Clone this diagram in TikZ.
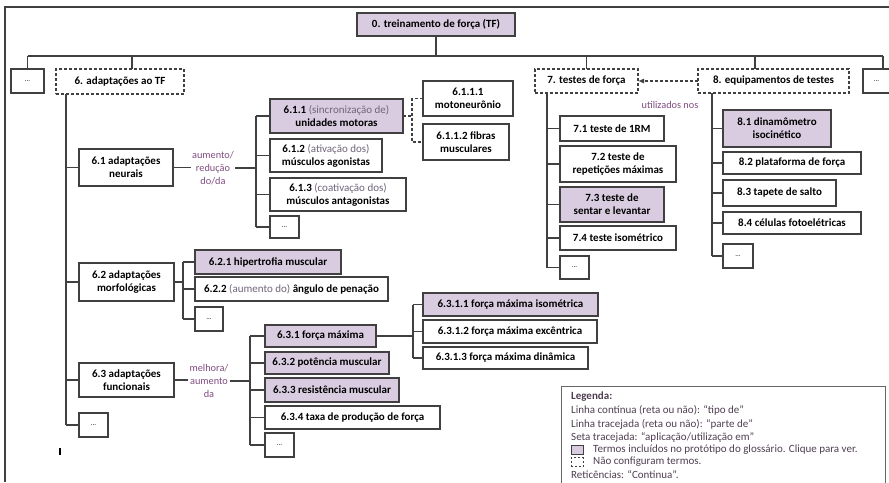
\documentclass[tikz,border=0pt]{standalone}
\usepackage{fontspec}
\setmainfont{Carlito}
\usetikzlibrary{positioning,arrows.meta}

\definecolor{lilas}{RGB}{217,204,224}
\definecolor{borda}{RGB}{64,64,64}
\definecolor{verbo}{RGB}{128,76,128}
\definecolor{cinza}{RGB}{112,100,122}
\definecolor{legtxt}{RGB}{78,62,80}

\newcommand{\obs}[1]{{\mdseries\color{cinza}#1}}

\tikzset{
  caixa/.style={draw=borda, line width=1.2pt, fill=white, anchor=north west, align=center,
    font=\fontsize{11}{13}\selectfont\bfseries, inner sep=1pt, outer sep=0pt},
  termo/.style={caixa, fill=lilas},
  tracejada/.style={caixa, dash pattern=on 3pt off 2pt},
  reti/.style={caixa, font=\fontsize{7}{8}\selectfont},
  tam/.style 2 args={minimum width=#1pt, minimum height=#2pt},
  liga/.style={draw=borda, line width=1.1pt},
  tracejado/.style={dash pattern=on 3pt off 2pt},
  verbotxt/.style={font=\fontsize{10.3}{13}\selectfont, text=verbo, align=center, inner sep=1pt},
  legenda/.style={anchor=west, inner sep=0pt, text=legtxt, font=\fontsize{11}{12}\selectfont}
}

\begin{document}
\begin{tikzpicture}[x=1pt, y=-1pt]
  \useasboundingbox (0,0) rectangle (889,482);

  % Frame
  \draw[borda, line width=1.2pt] (5,482) -- (5,7) -- (889,7);

  % Top level
  \node[termo, tam={158}{23}] (raiz) at (357,13) {0. treinamento de força (TF)};
  \node[reti, tam={33}{24}] (ret1) at (11,69) {...};
  \node[tracejada, tam={128}{25}] (a6) at (56,69) {6. adaptações ao TF};
  \node[tracejada, tam={103}{24}] (a7) at (535,69) {7. testes de força};
  \node[tracejada, tam={151}{24}] (a8) at (698,69) {8. equipamentos de testes};
  \node[reti, tam={27}{24}] (ret2) at (863,69) {...};

  \coordinate (barra) at (436,56);
  \coordinate (b1) at (27.5,56);
  \coordinate (b6) at (132,56);
  \coordinate (b8) at (755,56);
  \coordinate (b9) at (883,56);
  \draw[liga] (b1) -- (b9);
  \draw[liga] (raiz.south) -- (barra);
  \draw[liga] (b1) -- (ret1.north);
  \draw[liga] (b6) -- (b6 |- a6.north);
  \draw[liga] (a7.north |- barra) -- (a7.north);
  \draw[liga] (b8) -- (b8 |- a8.north);
  \draw[liga] (b9) -- (b9 |- ret2.north);

  % dashed arrow
  \draw[liga, tracejado, -{Latex[length=6pt, width=5pt]}] (a8.west) -- (a7.east);
  \node[verbotxt] (usa) at (670,105) {utilizados nos};

  % 6. adaptacoes
  \coordinate (t6) at (66,0);
  \node[caixa, tam={94}{37}] (a61) at (79,149) {6.1 adaptações\\neurais};
  \node[caixa, tam={95}{38}] (a62) at (79,263) {6.2 adaptações\\morfológicas};
  \node[caixa, tam={95}{34}] (a63) at (79,363) {6.3 adaptações\\funcionais};
  \node[reti, tam={29}{24}] (a6r) at (79,413) {...};
  \draw[liga] (a6.south -| t6) -- (a6r.west -| t6);
  \foreach \n in {a61,a62,a63,a6r}
    \draw[liga] (\n.west -| t6) -- (\n.west);

  % 6.1
  \node[verbotxt] (v61) at (213,168) {aumento/\\redução\\do/da};
  \coordinate (e61) at (256,0);
  \node[termo, tam={133}{34}] (a611) at (270,99) {6.1.1 \obs{(sincronização de)}\\unidades motoras};
  \node[caixa, tam={112}{33}, below=6pt of a611.south west, anchor=north west] (a612) {6.1.2 \obs{(ativação dos)}\\músculos agonistas};
  \node[caixa, tam={136}{33}, below=6pt of a612.south west, anchor=north west] (a613) {6.1.3 \obs{(coativação dos)}\\músculos antagonistas};
  \node[reti, tam={29}{22}, below=5pt of a613.south west, anchor=north west] (a61r) {...};
  \draw[liga] (a61.east) -- (a61.east -| v61.west);
  \draw[liga] (v61.east) -- (v61.east -| e61);
  \draw[liga] (a611.west -| e61) -- (a61r.west -| e61);
  \foreach \n in {a611,a612,a613,a61r}
    \draw[liga] (\n.west -| e61) -- (\n.west);

  % 6.1.1 (parte de)
  \coordinate (e611) at (412,0);
  \node[caixa, tam={90}{35}] (a6111) at (423,81) {6.1.1.1\\motoneurônio};
  \node[caixa, tam={86}{36}, below=8pt of a6111.south west, anchor=north west] (a6112) {6.1.1.2 fibras\\musculares};
  \draw[liga, tracejado] (a611.east) -- (a611.east -| e611);
  \draw[liga, tracejado] (a6111.west) -| (a6112.west -| e611) -- (a6112.west);

  % 7. testes
  \coordinate (t7) at (547,0);
  \node[caixa, tam={104}{25}] (a71) at (560,116) {7.1 teste de 1RM};
  \node[caixa, tam={116}{36}, below=5pt of a71.south west, anchor=north west] (a72) {7.2 teste de\\repetições máximas};
  \node[termo, tam={104}{35}, below=5pt of a72.south west, anchor=north west] (a73) {7.3 teste de\\sentar e levantar};
  \node[caixa, tam={116}{24}, below=4pt of a73.south west, anchor=north west] (a74) {7.4 teste isométrico};
  \node[reti, tam={29}{23}, below=6pt of a74.south west, anchor=north west] (a7r) {...};
  \draw[liga] (a7.south -| t7) -- (a7r.west -| t7);
  \foreach \n in {a71,a72,a73,a74,a7r}
    \draw[liga] (\n.west -| t7) -- (\n.west);

  % 8. equipamentos
  \coordinate (t8) at (712,0);
  \node[termo, tam={108}{37}] (a81) at (723,110) {8.1 dinamômetro\\isocinético};
  \node[caixa, tam={138}{22}, below=5pt of a81.south west, anchor=north west] (a82) {8.2 plataforma de força};
  \node[caixa, tam={113}{26}, below=6pt of a82.south west, anchor=north west] (a83) {8.3 tapete de salto};
  \node[caixa, tam={138}{22}, below=6pt of a83.south west, anchor=north west] (a84) {8.4 células fotoelétricas};
  \node[reti, tam={30}{24}, below=10pt of a84.south west, anchor=north west] (a8r) {...};
  \draw[liga] (a8.south -| t8) -- (a8r.west -| t8);
  \foreach \n in {a81,a82,a83,a84,a8r}
    \draw[liga] (\n.west -| t8) -- (\n.west);

  % 6.2
  \coordinate (e62) at (183,0);
  \node[termo, tam={146}{24}] (a621) at (195,250) {6.2.1 hipertrofia muscular};
  \node[caixa, tam={193}{24}, below=3pt of a621.south west, anchor=north west] (a622) {6.2.2 \obs{(aumento do)} ângulo de penação};
  \node[reti, tam={28}{24}, below=6pt of a622.south west, anchor=north west] (a62r) {...};
  \draw[liga] (a62.east) -- (a62.east -| e62);
  \draw[liga] (a621.west -| e62) -- (a62r.west -| e62);
  \foreach \n in {a621,a622,a62r}
    \draw[liga] (\n.west -| e62) -- (\n.west);

  % 6.3
  \node[verbotxt] (v63) at (209,381) {melhora/\\aumento\\da};
  \coordinate (e63) at (250,0);
  \node[termo, tam={111}{22}] (a631) at (265,325) {6.3.1 força máxima};
  \node[termo, tam={124}{22}, below=5pt of a631.south west, anchor=north west] (a632) {6.3.2 potência muscular};
  \node[termo, tam={134}{24}, below=4pt of a632.south west, anchor=north west] (a633) {6.3.3 resistência muscular};
  \node[caixa, tam={175}{23}, below=4pt of a633.south west, anchor=north west] (a634) {6.3.4 taxa de produção de força};
  \node[reti, tam={29}{24}, below=4pt of a634.south west, anchor=north west] (a63r) {...};
  \draw[liga] (a63.east) -- (a63.east -| v63.west);
  \draw[liga] (v63.east) -- (v63.east -| e63);
  \draw[liga] (a631.west -| e63) -- (a63r.west -| e63);
  \foreach \n in {a631,a632,a633,a634,a63r}
    \draw[liga] (\n.west -| e63) -- (\n.west);

  % 6.3.1
  \coordinate (e631) at (413,0);
  \node[termo, tam={175}{23}] (a6311) at (423,293) {6.3.1.1 força máxima isométrica};
  \node[caixa, tam={174}{23}, below=4pt of a6311.south west, anchor=north west] (a6312) {6.3.1.2 força máxima excêntrica};
  \node[caixa, tam={165}{22}, below=4pt of a6312.south west, anchor=north west] (a6313) {6.3.1.3 força máxima dinâmica};
  \draw[liga] (a631.east) -- (a631.east -| e631);
  \draw[liga] (a6311.west -| e631) -- (a6313.west -| e631);
  \foreach \n in {a6311,a6312,a6313}
    \draw[liga] (\n.west -| e631) -- (\n.west);

  % stray mark
  \draw[black, line width=1.3pt] (60,448) -- (60,455);

  % Legend
  \node[draw=borda!80, line width=1pt, anchor=north west, tam={324}{100}] (leg) at (561,386) {};
  \node[legenda, font=\fontsize{11}{12}\selectfont\bfseries] (l0) at (571,397) {Legenda:};
  \node[legenda] (l1) at (571,410) {Linha contínua (reta ou não): “tipo de”};
  \node[legenda] (l2) at (571,424) {Linha tracejada (reta ou não): “parte de”};
  \node[legenda] (l3) at (571,437) {Seta tracejada: “aplicação/utilização em”};
  \node[draw=borda, line width=0.9pt, fill=lilas, anchor=west, tam={12}{9}, inner sep=0pt] (q1) at (571,450) {};
  \node[legenda] (l4) at (593,450) {Termos incluídos no protótipo do glossário. Clique para ver.};
  \node[draw=borda, line width=0.9pt, dash pattern=on 2pt off 2pt, anchor=west, tam={12}{9}, inner sep=0pt] (q2) at (571,462) {};
  \node[legenda] (l5) at (593,462) {Não configuram termos.};
  \node[legenda] (l6) at (571,475) {Reticências: “Continua”.};

\end{tikzpicture}
\end{document}
